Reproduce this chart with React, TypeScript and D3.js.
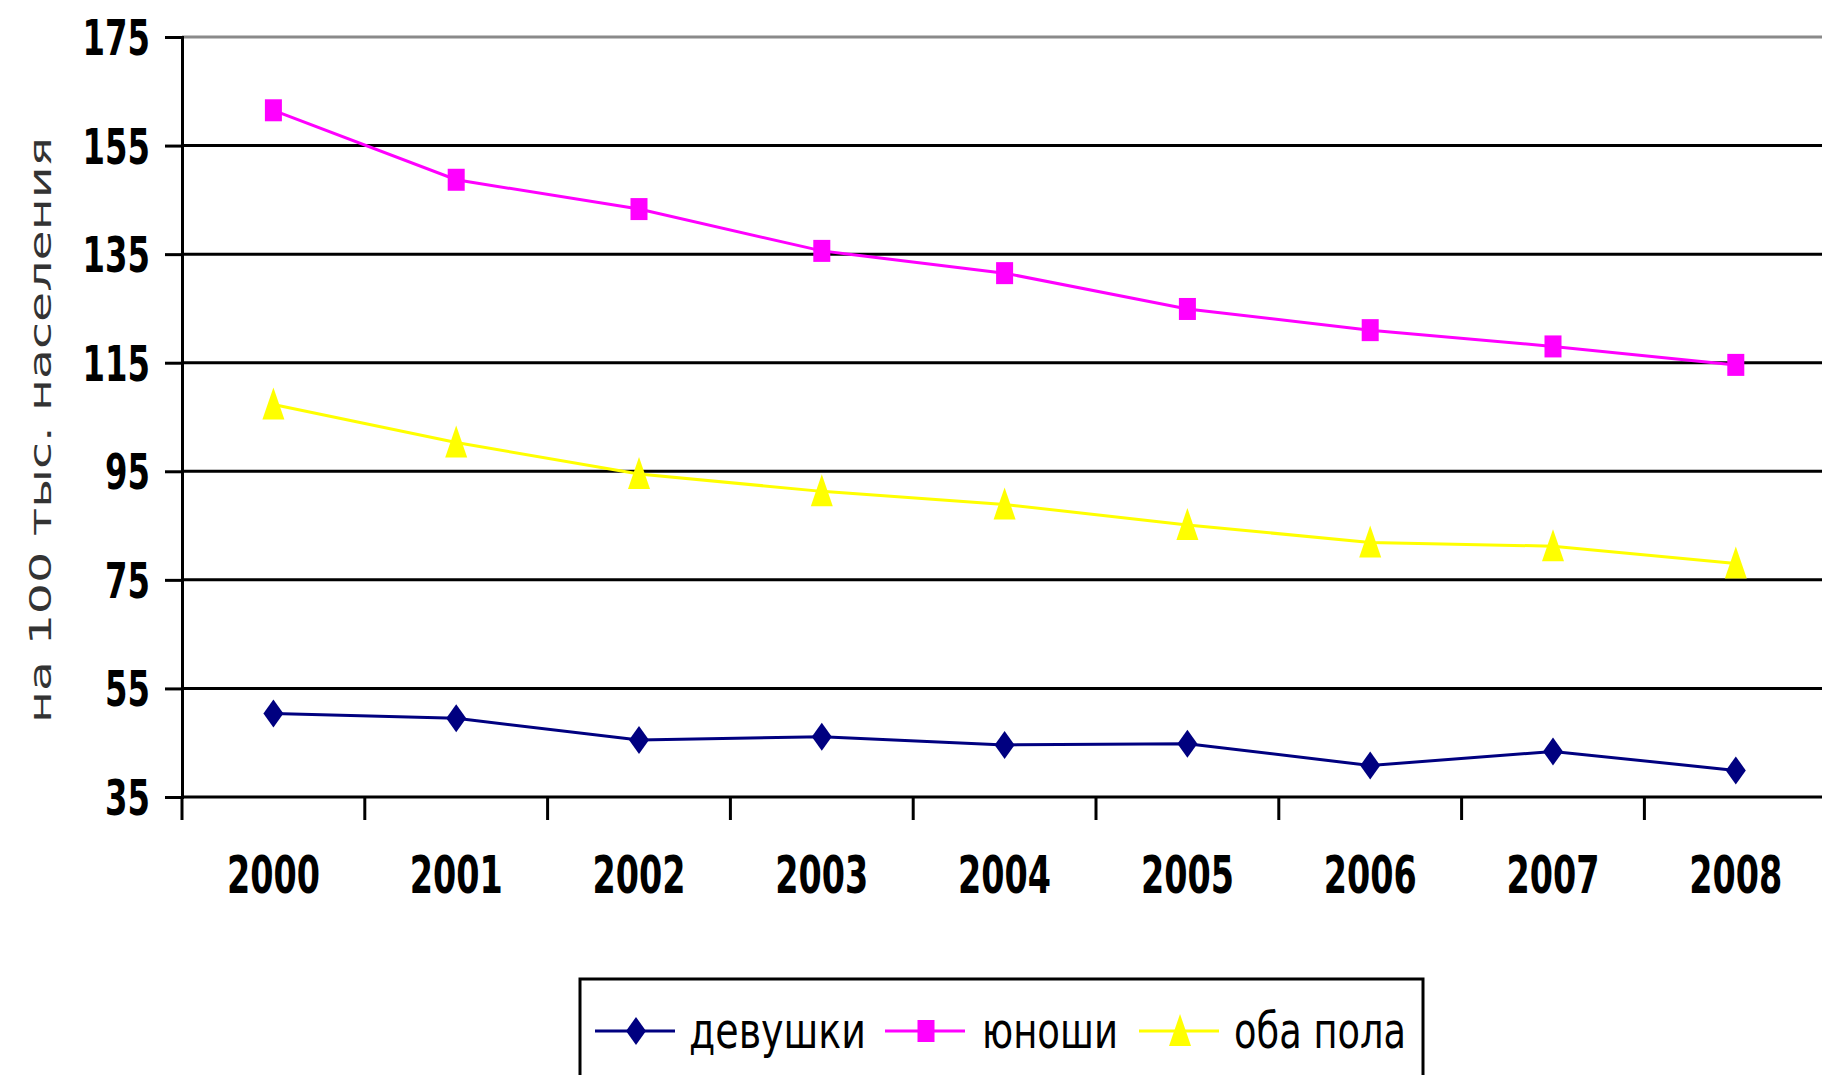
import React, { useEffect, useRef } from 'react';
import * as d3 from 'd3';

// chart data
const years = ['2000', '2001', '2002', '2003', '2004', '2005', '2006', '2007', '2008'];
const girls = [50.4, 49.5, 45.5, 46.1, 44.6, 44.8, 40.8, 43.4, 39.9];
const boys = [161.5, 148.7, 143.3, 135.6, 131.5, 124.9, 121.0, 118.0, 114.6];
const both = [107.3, 100.3, 94.5, 91.3, 88.9, 85.1, 81.9, 81.2, 78.0];
const yTicks = [35, 55, 75, 95, 115, 135, 155, 175];
const seriesNames = ['девушки', 'юноши', 'оба пола'];
const seriesColors = ['#000080', '#FF00FF', '#FFFF00'];
const yTitle = 'на 100 тыс. населения';

const W = 1822, H = 1075;

// squeeze a text horizontally to a given width (the source chart uses a narrow face)
const squeeze = (node: SVGTextElement, target: number, x: number, y: number) => {
  const w = node.getComputedTextLength();
  const k = w > 0 ? target / w : 1;
  d3.select(node).attr('x', 0).attr('y', 0)
    .attr('transform', `translate(${x},${y}) scale(${k},1)`);
};

export default function App() {
  const ref = useRef<SVGSVGElement>(null);

  useEffect(() => {
    const svg = d3.select(ref.current);
    svg.selectAll('*').remove();

    const left = 182, bandW = 182.8;
    const x = d3.scaleBand().domain(years).range([left, left + bandW * years.length]);
    const y = d3.scaleLinear().domain([35, 175]).range([797, 37]);

    svg.append('rect').attr('width', W).attr('height', H).attr('fill', '#fff');

    // gridlines
    svg.append('g').selectAll('line')
      .data(yTicks.filter(t => t !== 35))
      .enter().append('line')
      .attr('x1', left).attr('x2', W)
      .attr('y1', d => y(d)).attr('y2', d => y(d))
      .attr('stroke', d => (d === 175 ? '#8a8a8a' : '#000'))
      .attr('stroke-width', 3);

    // y axis
    const yAxis = d3.axisLeft(y).tickValues(yTicks).tickSize(17).tickFormat(() => '');
    const gy = svg.append('g').attr('transform', `translate(${left},0)`).call(yAxis);
    gy.select('.domain').attr('stroke', '#000').attr('stroke-width', 3);
    gy.selectAll('.tick line').attr('stroke', '#000').attr('stroke-width', 3);

    svg.append('g').selectAll('text')
      .data(yTicks)
      .enter().append('text')
      .attr('text-anchor', 'end')
      .attr('font-family', '"DejaVu Sans", sans-serif')
      .attr('font-weight', 'bold')
      .attr('font-size', 50)
      .attr('fill', '#000')
      .text(d => String(d))
      .each(function (d) {
        squeeze(this as SVGTextElement, String(d).length * 22.5, 150, y(d) + 18);
      });

    // x axis line and ticks at band edges
    svg.append('line')
      .attr('x1', left).attr('x2', W)
      .attr('y1', y(35)).attr('y2', y(35))
      .attr('stroke', '#000').attr('stroke-width', 3);
    const edges = years.map((_, i) => left + i * bandW);
    svg.append('g').selectAll('line')
      .data(edges)
      .enter().append('line')
      .attr('x1', d => d).attr('x2', d => d)
      .attr('y1', y(35)).attr('y2', y(35) + 23)
      .attr('stroke', '#000').attr('stroke-width', 3);

    svg.append('g').selectAll('text')
      .data(years)
      .enter().append('text')
      .attr('text-anchor', 'middle')
      .attr('font-family', '"DejaVu Sans", sans-serif')
      .attr('font-weight', 'bold')
      .attr('font-size', 52)
      .text(d => d)
      .each(function (d) {
        squeeze(this as SVGTextElement, 93, (x(d) as number) + x.bandwidth() / 2, 893);
      });

    // y title
    svg.append('text')
      .attr('transform', 'translate(40,430) rotate(-90)')
      .attr('text-anchor', 'middle')
      .attr('dominant-baseline', 'central')
      .attr('font-family', '"DejaVu Sans", sans-serif')
      .attr('font-size', 31)
      .attr('fill', '#333')
      .attr('textLength', 586)
      .attr('lengthAdjust', 'spacingAndGlyphs')
      .text(yTitle);

    // markers
    const drawMarker = (g: any, kind: number, cx: number, cy: number, color: string) => {
      if (kind === 0) {
        g.append('path')
          .attr('d', `M${cx},${cy - 14}L${cx + 10},${cy}L${cx},${cy + 14}L${cx - 10},${cy}Z`)
          .attr('fill', color);
      } else if (kind === 1) {
        g.append('rect')
          .attr('x', cx - 8.5).attr('y', cy - 11).attr('width', 17).attr('height', 22)
          .attr('fill', color);
      } else {
        g.append('path')
          .attr('d', `M${cx},${cy - 17}L${cx + 11},${cy + 15}L${cx - 11},${cy + 15}Z`)
          .attr('fill', color);
      }
    };

    const allSeries = [girls, boys, both];
    const line = d3.line<number>()
      .x((_, i) => (x(years[i]) as number) + x.bandwidth() / 2)
      .y(d => y(d));

    allSeries.forEach((vals, s) => {
      const g = svg.append('g');
      g.append('path')
        .attr('d', line(vals))
        .attr('fill', 'none')
        .attr('stroke', seriesColors[s])
        .attr('stroke-width', 3);
      vals.forEach((v, i) => {
        drawMarker(g, s, (x(years[i]) as number) + x.bandwidth() / 2, y(v), seriesColors[s]);
      });
    });

    // legend
    const lg = svg.append('g');
    lg.append('rect')
      .attr('x', 580).attr('y', 979).attr('width', 843).attr('height', 120)
      .attr('fill', '#fff').attr('stroke', '#000').attr('stroke-width', 3);
    const itemX = [595, 885, 1139];
    const textX = [689, 982, 1234];
    const textW = [177, 136, 172];
    seriesNames.forEach((name, s) => {
      const ly = 1031;
      lg.append('line')
        .attr('x1', itemX[s]).attr('x2', itemX[s] + 80)
        .attr('y1', ly).attr('y2', ly)
        .attr('stroke', seriesColors[s]).attr('stroke-width', 3);
      drawMarker(lg, s, itemX[s] + 41, ly, seriesColors[s]);
      const t = lg.append('text')
        .attr('font-family', '"DejaVu Sans", sans-serif')
        .attr('font-size', 50)
        .text(name);
      squeeze(t.node() as SVGTextElement, textW[s], textX[s], ly + 17);
    });
  }, []);

  return (
    <svg ref={ref} width={W} height={H} style={{ position: 'absolute', left: 0, top: 0 }} />
  );
}
